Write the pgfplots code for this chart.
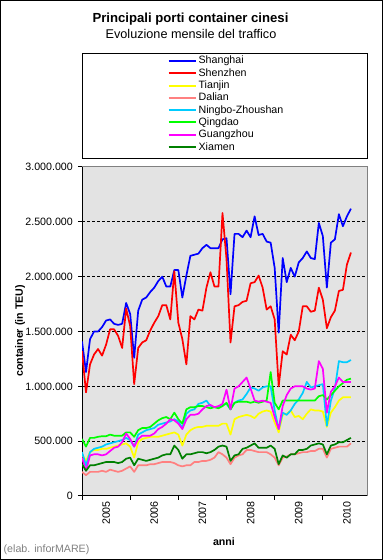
\documentclass[border=0pt]{standalone}
\usepackage{fontspec}
\setmainfont{Liberation Sans}
\usepackage{pgfplots}
\usepackage{pgfplotstable}
\pgfplotsset{compat=1.18}

\definecolor{plotbg}{HTML}{E3E3E3}
\definecolor{cSH}{HTML}{0000FF}
\definecolor{cSZ}{HTML}{FF0000}
\definecolor{cTJ}{HTML}{FFFF00}
\definecolor{cDL}{HTML}{FF8080}
\definecolor{cNB}{HTML}{00CCFF}
\definecolor{cQD}{HTML}{00FF00}
\definecolor{cGZ}{HTML}{FF00FF}
\definecolor{cXM}{HTML}{008000}

% monthly traffic, thousand TEU; i=0 is January 2005
\pgfplotstableread{
i SH SZ TJ DL NB QD GZ XM
0 1410 1320 380 220 400 520 350 290
1 1130 945 320 190 280 450 230 230
2 1430 1200 400 220 400 530 370 280
3 1500 1290 420 220 430 530 380 280
4 1500 1340 420 220 440 540 380 290
5 1540 1280 430 230 450 545 370 300
6 1600 1380 430 220 470 545 380 310
7 1610 1520 440 240 480 560 410 310
8 1570 1520 450 230 490 550 440 310
9 1560 1460 460 220 500 550 450 300
10 1570 1350 470 230 510 550 490 310
11 1760 1710 480 250 530 580 570 340
12 1660 1550 450 270 510 580 520 350
13 1260 1020 350 220 450 540 450 280
14 1690 1350 490 280 560 600 520 340
15 1790 1400 520 280 580 620 550 330
16 1810 1420 530 280 600 620 550 320
17 1860 1510 540 290 610 630 550 330
18 1900 1580 540 290 620 660 570 340
19 1960 1640 540 300 650 690 610 350
20 2000 1740 550 310 660 710 630 370
21 1910 1740 560 310 670 720 660 380
22 1910 1610 570 310 680 700 700 380
23 2060 2050 580 300 700 760 690 460
24 2060 1580 560 280 680 700 660 420
25 1810 1430 460 270 620 660 610 340
26 2010 1200 560 280 750 790 700 380
27 2190 1640 600 280 780 810 740 380
28 2200 1610 620 310 790 810 740 390
29 2210 1700 630 310 840 820 750 400
30 2260 1690 630 320 850 820 790 400
31 2290 1900 640 320 870 810 820 390
32 2260 2040 640 330 820 800 830 400
33 2260 1910 640 350 810 810 810 420
34 2260 1910 640 400 810 800 820 450
35 2340 2580 660 380 830 820 840 460
36 2350 2160 660 350 840 850 970 450
37 1840 1400 560 290 790 790 790 320
38 2390 1730 700 350 850 850 980 370
39 2390 1740 720 370 870 860 1000 380
40 2360 1770 730 380 880 860 1040 430
41 2420 1780 740 420 930 860 1080 440
42 2360 1940 730 420 990 850 980 460
43 2550 1950 710 410 980 860 870 480
44 2380 2010 750 400 960 850 860 440
45 2390 1900 770 400 990 860 870 440
46 2320 1700 780 400 1000 870 860 440
47 2310 1730 770 380 1000 1130 850 460
48 2080 1610 670 350 780 850 720 430
49 1490 1000 580 280 610 790 610 290
50 2170 1320 740 350 760 870 820 370
51 1950 1290 750 360 740 870 920 350
52 2080 1470 780 380 780 870 980 380
53 2000 1420 720 380 840 870 1000 380
54 2130 1500 730 390 880 870 1000 420
55 2170 1730 700 400 940 870 1000 420
56 2230 1730 750 400 1040 870 980 430
57 2170 1680 790 410 990 870 970 460
58 2160 1690 780 410 1000 870 980 470
59 2490 1900 780 430 1010 910 1230 480
60 2370 1790 770 430 1020 920 1160 470
61 1900 1530 630 350 640 880 760 380
62 2310 1630 760 430 870 920 950 460
63 2340 1690 810 440 980 960 1000 470
64 2570 1870 870 450 1230 1000 1080 490
65 2460 1880 900 450 1220 1030 1040 490
66 2550 2110 900 450 1220 1060 1040 510
67 2620 2220 900 480 1240 1070 1040 530
}\data

\begin{document}
\begin{tikzpicture}
\begin{axis}[
  name=ax,
  at={(82bp,64bp)}, anchor=south west,
  width=285bp, height=329bp, scale only axis,
  xmin=0, xmax=71, ymin=0, ymax=3000,
  axis x line*=bottom, axis y line*=left,
  axis line style={black, line width=1bp},
  axis background/.style={fill=plotbg},
  tick align=outside, major tick length=4bp,
  tick style={black, line width=1bp},
  xtick={0,12,24,36,48,60}, xticklabels={},
  extra x ticks={6,18,30,42,54,66},
  extra x tick labels={2005,2006,2007,2008,2009,2010},
  extra x tick style={major tick length=0pt,
     tick label style={rotate=90, anchor=east, inner sep=0pt, xshift=-5bp}},
  ytick={0,500,...,3000},
  yticklabels={0,500.000,1.000.000,1.500.000,2.000.000,2.500.000,3.000.000},
  yticklabel style={inner sep=0pt, xshift=-5bp},
  extra y ticks={500,1000,1500,2000,2500}, extra y tick labels={},
  extra y tick style={grid=major, major tick length=0pt},
  grid style={black, dash pattern=on 3bp off 2bp, line width=0.8bp},
  ticklabel style={font=\fontsize{10.7}{12}\selectfont},
  every axis plot/.append style={line width=1.7bp, line join=round, mark=none},
  legend image code/.code={\draw[#1, line width=2bp] (0bp,0bp) -- (27bp,0bp);},
  legend cell align=left,
  legend style={at={(0.5,1)}, anchor=center, xshift=1bp, yshift=63bp,
     draw=none, fill=none, inner sep=0pt, outer sep=0pt,
     font=\fontsize{10.7}{12}\selectfont, row sep=1.7bp, column sep=2bp,
     nodes={inner sep=0pt, text height=8.3bp, text depth=2.3bp}},
]
\addplot[cSH] table[x=i, y=SH] {\data}; \addlegendentry{Shanghai}
\addplot[cSZ] table[x=i, y=SZ] {\data}; \addlegendentry{Shenzhen}
\addplot[cTJ] table[x=i, y=TJ] {\data}; \addlegendentry{Tianjin}
\addplot[cDL] table[x=i, y=DL] {\data}; \addlegendentry{Dalian}
\addplot[cNB] table[x=i, y=NB] {\data}; \addlegendentry{Ningbo-Zhoushan}
\addplot[cQD] table[x=i, y=QD] {\data}; \addlegendentry{Qingdao}
\addplot[cGZ] table[x=i, y=GZ] {\data}; \addlegendentry{Guangzhou}
\addplot[cXM] table[x=i, y=XM] {\data}; \addlegendentry{Xiamen}
\end{axis}
\draw[gray, line width=1bp] (ax.north west) -- (ax.north east) -- (ax.south east);
\draw[black, line width=1bp] (82.5bp,401.7bp) rectangle (367.5bp,506.7bp);
\node[anchor=base, font=\bfseries\fontsize{13.2}{15}\selectfont] at (190.5bp,537.3bp) {Principali porti container cinesi};
\node[anchor=base, font=\fontsize{12.7}{14}\selectfont] at (191bp,521.7bp) {Evoluzione mensile del traffico};
\node[rotate=90, font=\bfseries\fontsize{10.7}{12}\selectfont] at (20bp,229bp) {container (in TEU)};
\node[anchor=base, font=\bfseries\fontsize{10.7}{12}\selectfont] at (224bp,15bp) {anni};
\node[anchor=base west, text=gray, inner sep=0pt, font=\fontsize{10.7}{12}\selectfont] at (3.5bp,8bp) {(elab. inforMARE)};
\draw[black, line width=1bp] (0.5bp,0.5bp) rectangle (382.5bp,559.5bp);
\pgfresetboundingbox
\path (0bp,0bp) rectangle (383bp,560bp);
\end{tikzpicture}
\end{document}
